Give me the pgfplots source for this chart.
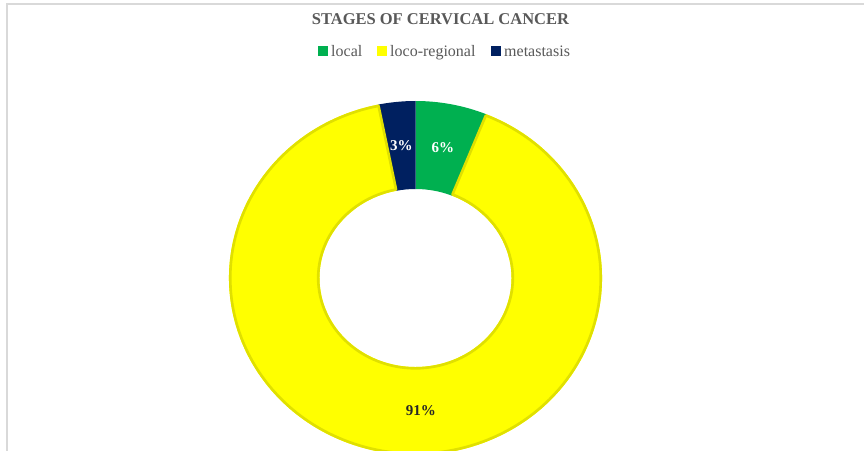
\documentclass[border=0pt]{standalone}
\usepackage{pgfplots}
\usepackage{pgfplotstable}
\pgfplotsset{compat=1.18}
\usepackage{fontspec}
\setmainfont{Liberation Serif}
\definecolor{cLocal}{HTML}{00B050}
\definecolor{cLoco}{HTML}{FFFF00}
\definecolor{cMeta}{HTML}{002060}
\definecolor{cEdge}{HTML}{E0E000}
\definecolor{cTitle}{HTML}{595959}
\definecolor{cFrame}{HTML}{D9D9D9}
\definecolor{cDark}{HTML}{262626}

\pgfplotstableread{
label value fillc textc edgec shift
local 6.2 cLocal white none 0
loco-regional 90.6 cLoco cDark cEdge 7.6
metastasis 3.2 cMeta white none 0
}\stagedata

\begin{document}
\begin{tikzpicture}
\useasboundingbox (0,0) rectangle (864pt,450pt);
\fill[white] (0,0) rectangle (864pt,450pt);
\clip (0,0) rectangle (864pt,450pt);
\begin{axis}[at={(0pt,0pt)}, anchor=south west, x=1pt, y=1pt,
  xmin=0, xmax=864, ymin=0, ymax=450, hide axis, clip=false, scale only axis]
\pgfplotsextra{
  \def\cx{415.5}\def\cy{172}
  \def\Rx{186.5}\def\Ry{177}\def\rx{96}\def\ry{89}
  % frame
  \draw[cFrame, line width=1.2pt] (axis cs:7,-10) -- (axis cs:7,446) -- (axis cs:900,446);
  % slices
  \gdef\cum{0}
  \foreach \i in {0,1,2}{
    \pgfplotstablegetelem{\i}{value}\of\stagedata\let\v\pgfplotsretval
    \pgfplotstablegetelem{\i}{fillc}\of\stagedata\let\fc\pgfplotsretval
    \pgfmathsetmacro\aa{90-3.6*\cum}
    \pgfmathsetmacro\ab{90-3.6*(\cum+\v)}
    \fill[\fc] (axis cs:{\cx+\Rx*cos(\aa)},{\cy+\Ry*sin(\aa)})
      arc[start angle=\aa, end angle=\ab, x radius=\Rx pt, y radius=\Ry pt]
      -- (axis cs:{\cx+\rx*cos(\ab)},{\cy+\ry*sin(\ab)})
      arc[start angle=\ab, end angle=\aa, x radius=\rx pt, y radius=\ry pt] -- cycle;
    \pgfmathsetmacro\newcum{\cum+\v}\xdef\cum{\newcum}
  }
  % slice outlines
  \gdef\cum{0}
  \foreach \i in {0,1,2}{
    \pgfplotstablegetelem{\i}{value}\of\stagedata\let\v\pgfplotsretval
    \pgfplotstablegetelem{\i}{edgec}\of\stagedata\let\ec\pgfplotsretval
    \pgfmathsetmacro\aa{90-3.6*\cum}
    \pgfmathsetmacro\ab{90-3.6*(\cum+\v)}
    \pgfmathsetmacro\Rxx{\Rx-1.3}\pgfmathsetmacro\Ryy{\Ry-1.3}
    \pgfmathsetmacro\rxx{\rx+1.3}\pgfmathsetmacro\ryy{\ry+1.3}
    \path[draw=\ec, line width=2.6pt, line join=round] (axis cs:{\cx+\Rxx*cos(\aa)},{\cy+\Ryy*sin(\aa)})
      arc[start angle=\aa, end angle=\ab, x radius=\Rxx pt, y radius=\Ryy pt]
      -- (axis cs:{\cx+\rxx*cos(\ab)},{\cy+\ryy*sin(\ab)})
      arc[start angle=\ab, end angle=\aa, x radius=\rxx pt, y radius=\ryy pt] -- cycle;
    \pgfmathsetmacro\newcum{\cum+\v}\xdef\cum{\newcum}
  }
  % value labels
  \gdef\cum{0}
  \foreach \i in {0,1,2}{
    \pgfplotstablegetelem{\i}{value}\of\stagedata\let\v\pgfplotsretval
    \pgfplotstablegetelem{\i}{textc}\of\stagedata\let\tc\pgfplotsretval
    \pgfplotstablegetelem{\i}{shift}\of\stagedata\let\sh\pgfplotsretval
    \pgfmathsetmacro\am{90-3.6*(\cum+\v/2)+\sh}
    \node[text=\tc, font=\fontsize{15}{18}\selectfont\bfseries]
      at (axis cs:{\cx+141.25*cos(\am)},{\cy+133*sin(\am)})
      {\pgfmathprintnumber[fixed,precision=0,assume math mode=true]{\v}\%};
    \pgfmathsetmacro\newcum{\cum+\v}\xdef\cum{\newcum}
  }
  % title
  \node[font=\fontsize{16.5}{20}\selectfont\bfseries, text=cTitle, anchor=base]
    at (axis cs:440.5,425) {STAGES OF CERVICAL CANCER};
  % legend
  \foreach \i/\sx in {0/318,1/377,2/491}{
    \pgfplotstablegetelem{\i}{fillc}\of\stagedata\let\fc\pgfplotsretval
    \pgfplotstablegetelem{\i}{label}\of\stagedata\let\lab\pgfplotsretval
    \fill[\fc] (axis cs:\sx,394) rectangle (axis cs:{\sx+10},404);
    \node[anchor=base west, inner sep=0pt, font=\fontsize{16}{19}\selectfont, text=cTitle]
      at (axis cs:{\sx+13},393) {\lab};
  }
}
\end{axis}
\end{tikzpicture}
\end{document}
